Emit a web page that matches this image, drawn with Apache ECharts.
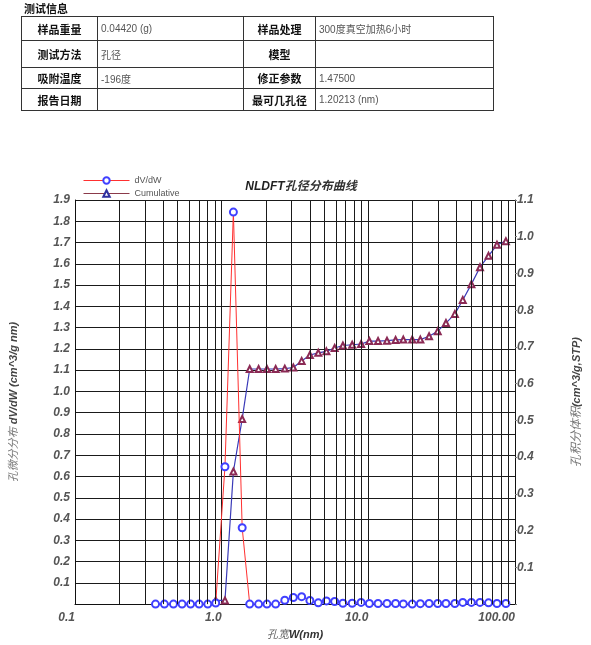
<!DOCTYPE html>
<html>
<head>
<meta charset="utf-8">
<script src="https://cdn.jsdelivr.net/npm/echarts@6/dist/echarts.min.js"></script>
<style>
  html, body { margin: 0; padding: 0; background: #fff; }
  #wrap { position: relative; width: 591px; height: 645px; overflow: hidden; }
  #info-title { position: absolute; left: 24px; top: 0px; font: bold 11px "Liberation Sans", "Noto Sans CJK SC", sans-serif; color: #111; }
  #info { position: absolute; left: 21px; top: 16px; border-collapse: collapse; font-family: "Liberation Sans", "Noto Sans CJK SC", sans-serif; }
  #info td { border: 1px solid #333; padding: 0 0 0 3px; font-size: 10px; color: #555; }
  #info td.lab { text-align: center; font-weight: bold; color: #111; font-size: 11px; padding: 0; }
  #chart { position: absolute; left: 0; top: 0; width: 591px; height: 645px; }
</style>
</head>
<body>
<div id="wrap">
  <div id="chart"></div>
  <div id="info-title">测试信息</div>
  <table id="info">
    <colgroup><col style="width:76px"><col style="width:146px"><col style="width:72px"><col style="width:178px"></colgroup>
    <tr style="height:24px"><td class="lab">样品重量</td><td>0.04420 (g)</td><td class="lab">样品处理</td><td>300度真空加热6小时</td></tr>
    <tr style="height:27px"><td class="lab">测试方法</td><td>孔径</td><td class="lab">模型</td><td></td></tr>
    <tr style="height:21px"><td class="lab">吸附温度</td><td>-196度</td><td class="lab">修正参数</td><td>1.47500</td></tr>
    <tr style="height:22px"><td class="lab">报告日期</td><td></td><td class="lab">最可几孔径</td><td>1.20213 (nm)</td></tr>
  </table>
</div>
<script>
// ---- data ----
const poreWidth = [0.354, 0.407, 0.469, 0.537, 0.614, 0.702, 0.804, 0.911, 1.053, 1.202,
  1.380, 1.553, 1.786, 2.036, 2.334, 2.694, 3.080, 3.510, 3.994, 4.559,
  5.178, 5.893, 6.707, 7.761, 8.926, 10.16, 11.65, 13.40, 15.34, 17.32,
  19.93, 22.63, 25.95, 29.72, 33.82, 38.91, 44.05, 50.43, 57.72, 66.01,
  75.34, 86.67];
const dVdW = [0, 0, 0, 0, 0, 0, 0, 0.005, 0.646, 1.843,
  0.359, 0, 0, 0, 0, 0.018, 0.031, 0.035, 0.017, 0.006,
  0.015, 0.012, 0.004, 0.004, 0.008, 0.003, 0.003, 0.003, 0.003, 0.001,
  0.0, 0.002, 0.003, 0.003, 0.003, 0.003, 0.008, 0.008, 0.008, 0.006,
  0.003, 0.003];
const cumulative = [null, null, null, null, null, null, null, 0.010, 0.010, 0.361,
  0.504, 0.640, 0.640, 0.640, 0.640, 0.641, 0.644, 0.662, 0.678, 0.684,
  0.688, 0.697, 0.704, 0.706, 0.708, 0.716, 0.716, 0.717, 0.719, 0.720,
  0.720, 0.720, 0.729, 0.743, 0.765, 0.790, 0.828, 0.871, 0.917, 0.948,
  0.978, 0.988];
const xTickLabels = {'0.1': '0.1', '1': '1.0', '10': '10.0', '100': '100.00'};
const minorGridX = [0.2, 0.3, 0.4, 0.5, 0.6, 0.7, 0.8, 0.9,
  2, 3, 4, 5, 6, 7, 8, 9, 20, 30, 40, 50, 60, 70, 80, 90];

const CJK = '"Liberation Sans", "Noto Sans CJK SC", sans-serif';
const labelStyle = { fontFamily: CJK, fontStyle: 'italic', fontWeight: 'bold', fontSize: 12, color: '#555' };

const chart = echarts.init(document.getElementById('chart'), null, { renderer: 'canvas' });
const dvPairs = poreWidth.map((w, i) => [w, dVdW[i]]);
const cumPairs = poreWidth.map((w, i) => [w, cumulative[i]]).filter(p => p[1] !== null);

chart.setOption({
  animation: false,
  backgroundColor: '#fff',
  title: {
    text: '{a|NLDFT}{b|孔径分布曲线}',
    left: 296, top: 176, textAlign: 'center',
    textStyle: {
      rich: {
        a: { fontFamily: CJK, fontStyle: 'italic', fontWeight: 'bold', fontSize: 12, color: '#222' },
        b: { fontFamily: CJK, fontStyle: 'italic', fontWeight: 'bold', fontSize: 12, color: '#333' }
      }
    }
  },
  legend: {
    orient: 'vertical', left: 78, top: 171, itemWidth: 46, itemHeight: 8, itemGap: 4,
    textStyle: { fontFamily: CJK, fontSize: 9, color: '#555' },
    data: [
      { name: 'dV/dW',
        lineStyle: { color: '#ff3030', width: 1 },
        itemStyle: { color: '#4040ff', borderColor: '#4040ff', borderWidth: 1 } },
      { name: 'Cumulative',
        lineStyle: { color: '#8b3a4a', width: 1 },
        itemStyle: { color: '#3030a0', borderColor: '#3030a0', borderWidth: 1 } }
    ]
  },
  grid: { left: 73, top: 200, width: 444, height: 412, containLabel: false },
  xAxis: {
    type: 'log', logBase: 10, min: 0.1, max: 100, splitNumber: 3,
    name: '{a|孔宽}{b|W(nm)}', nameLocation: 'middle', nameGap: 20,
    nameTextStyle: {
      rich: {
        a: { fontFamily: CJK, fontStyle: 'italic', fontSize: 11, color: '#666' },
        b: { fontFamily: CJK, fontStyle: 'italic', fontWeight: 'bold', fontSize: 11, color: '#333' }
      }
    },
    axisLine: { show: true, lineStyle: { color: '#111', width: 1 } },
    axisTick: { show: false },
    axisLabel: Object.assign({}, labelStyle, {
      margin: 8, align: 'right',
      formatter: v => xTickLabels[String(+v.toPrecision(3))] || ''
    }),
    splitLine: { show: true, lineStyle: { color: '#1a1a1a', width: 1 } }
  },
  yAxis: [
    {
      type: 'value', min: 0, max: 1.9, interval: 0.1, position: 'left',
      name: '{a|孔微分分布 }{b|dV/dW (cm^3/g nm)}', nameLocation: 'middle', nameGap: 56,
      nameTextStyle: {
        rich: {
          a: { fontFamily: CJK, fontStyle: 'italic', fontSize: 11, color: '#777' },
          b: { fontFamily: CJK, fontStyle: 'italic', fontWeight: 'bold', fontSize: 11, color: '#444' }
        }
      },
      axisLine: { show: true, lineStyle: { color: '#111' } },
      axisTick: { show: false },
      axisLabel: Object.assign({}, labelStyle, {
        margin: 5, formatter: v => (Math.abs(v) < 1e-9 ? '' : v.toFixed(1))
      }),
      splitLine: { show: true, lineStyle: { color: '#1a1a1a', width: 1 } }
    },
    {
      type: 'value', min: 0, max: 1.1, interval: 0.1, position: 'right',
      name: '{a|孔积分体积}{b|(cm^3/g,STP)}', nameLocation: 'middle', nameGap: 56,
      nameTextStyle: {
        rich: {
          a: { fontFamily: CJK, fontStyle: 'italic', fontSize: 12, color: '#777' },
          b: { fontFamily: CJK, fontStyle: 'italic', fontWeight: 'bold', fontSize: 11, color: '#444' }
        }
      },
      axisLine: { show: true, lineStyle: { color: '#111' } },
      axisTick: { show: true, length: 2, lineStyle: { color: '#777' } },
      axisLabel: Object.assign({}, labelStyle, {
        margin: 2, formatter: v => (Math.abs(v) < 1e-9 ? '' : v.toFixed(1))
      }),
      splitLine: { show: false }
    }
  ],
  series: [
    {
      name: 'minor-grid', type: 'line', data: [], z: 1, silent: true,
      markLine: {
        silent: true, symbol: ['none', 'none'], label: { show: false },
        lineStyle: { color: '#1a1a1a', width: 1, type: 'solid' },
        emphasis: { disabled: true },
        data: minorGridX.map(v => ({ xAxis: v }))
      }
    },
    {
      name: 'dV/dW', type: 'line', yAxisIndex: 0, data: dvPairs, z: 4,
      symbol: 'emptyCircle', symbolSize: 7,
      lineStyle: { color: '#ff3030', width: 1 },
      itemStyle: { color: '#4040ff', borderWidth: 1 }
    },
    {
      name: 'Cumulative', type: 'line', yAxisIndex: 1, data: cumPairs, z: 3,
      symbol: 'emptyTriangle', symbolSize: 6,
      lineStyle: { color: '#3a3ab8', width: 1.2 },
      itemStyle: { color: '#8b2a55', borderWidth: 1 }
    }
  ]
});
</script>
</body>
</html>
